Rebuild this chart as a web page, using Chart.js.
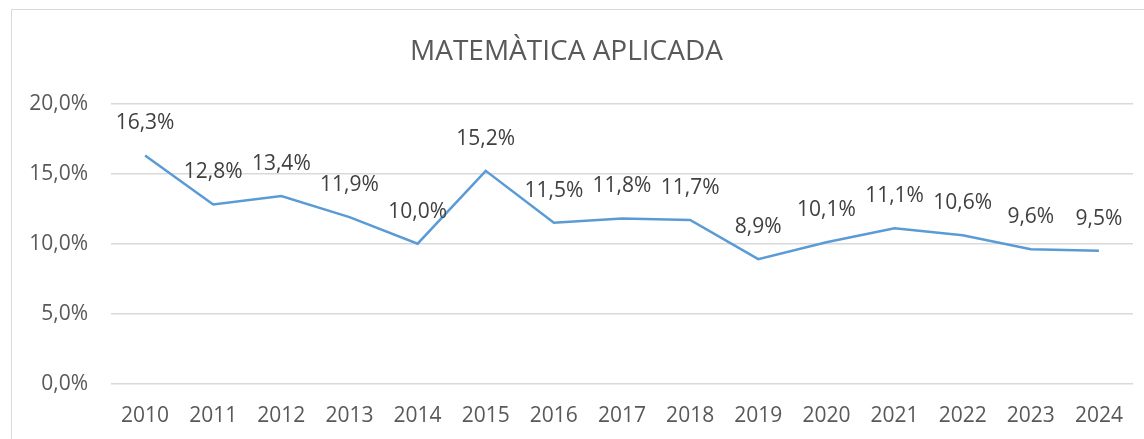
<!DOCTYPE html>
<html>
<head>
<meta charset="utf-8">
<script src="https://cdn.jsdelivr.net/npm/chart.js@4/dist/chart.umd.min.js"></script>
<style>
	html, body { margin: 0; padding: 0; background: #fff; overflow: hidden; }
	#frame { position: absolute; left: 11px; top: 9px; width: 1160px; height: 460px; border: 1px solid #d9d9d9; }
	#wrap { position: absolute; left: 0; top: 0; width: 1144px; height: 462px; }
</style>
</head>
<body>
<div id="frame"></div>
<div id="wrap"><canvas id="chart"></canvas></div>
<script>
'use strict';

// Years and percentage values
var years = ['2010', '2011', '2012', '2013', '2014', '2015', '2016', '2017', '2018', '2019', '2020', '2021', '2022', '2023', '2024'];
var rates = [16.3, 12.8, 13.4, 11.9, 10.0, 15.2, 11.5, 11.8, 11.7, 8.9, 10.1, 11.1, 10.6, 9.6, 9.5];
var yTicks = [0, 5, 10, 15, 20];

function pct(v) {
	return v.toFixed(1).replace('.', ',') + '%';
}

// Value labels above each point
var pointLabels = {
	id: 'pointLabels',
	afterDatasetsDraw: function(chart) {
		var c = chart.ctx;
		var meta = chart.getDatasetMeta(0);
		c.save();
		c.font = '21px "Open Sans"';
		c.fillStyle = '#404040';
		c.textAlign = 'center';
		c.textBaseline = 'middle';
		meta.data.forEach(function(pt, i) {
			c.fillText(pct(rates[i]), pt.x, pt.y - 32);
		});
		c.restore();
	}
};

var ctx = document.getElementById('chart');
new Chart(ctx, {
	type: 'line',
	data: {
		labels: years,
		datasets: [ {
			data: rates,
			borderColor: '#5b9bd5',
			borderWidth: 2.5,
			pointRadius: 0,
			tension: 0,
			fill: false
		} ]
	},
	options: {
		responsive: true,
		maintainAspectRatio: false,
		animation: false,
		layout: {
			padding: { left: 0, right: 11, top: 0, bottom: 13 }
		},
		plugins: {
			legend: { display: false },
			tooltip: { enabled: false },
			title: {
				display: true,
				text: 'MATEMÀTICA APLICADA',
				color: '#595959',
				font: { family: 'Open Sans', size: 28, weight: 'normal' },
				padding: { top: 35, bottom: 35 }
			}
		},
		scales: {
			x: {
				offset: true,
				grid: { display: false, drawTicks: false },
				border: { display: false },
				ticks: {
					color: '#595959',
					font: { family: 'Open Sans', size: 21 },
					padding: 20,
					maxRotation: 0
				}
			},
			y: {
				min: 0,
				max: 20,
				afterFit: function(scale) { scale.width = 111; },
				afterBuildTicks: function(scale) {
					scale.ticks = yTicks.map(function(v) { return { value: v }; });
				},
				grid: { color: '#d9d9d9', lineWidth: 1.5, drawTicks: false },
				border: { display: false },
				ticks: {
					color: '#595959',
					font: { family: 'Open Sans', size: 21 },
					padding: 23,
					callback: function(v) { return pct(v); }
				}
			}
		}
	},
	plugins: [ pointLabels ]
});
</script>
</body>
</html>
